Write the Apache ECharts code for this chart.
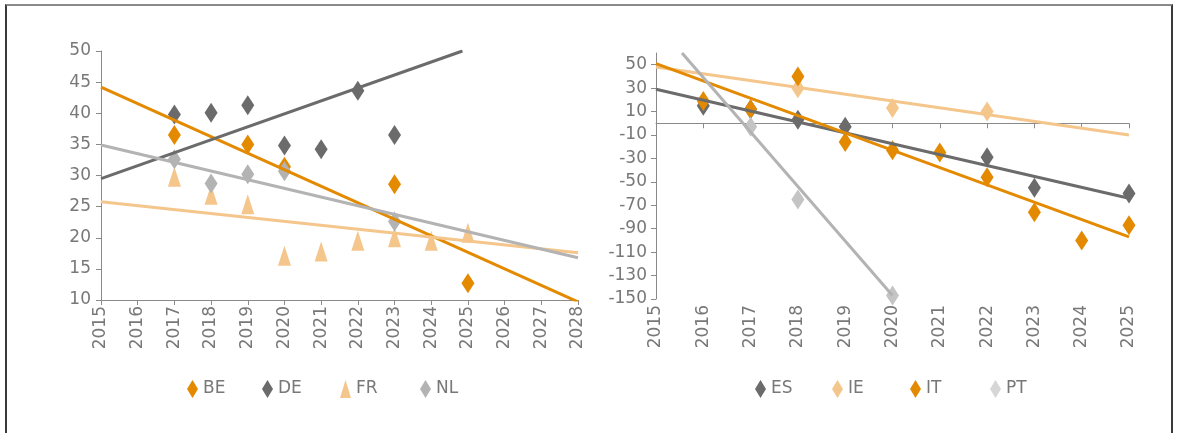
<!DOCTYPE html>
<html>
<head>
<meta charset="utf-8">
<script src="https://cdn.jsdelivr.net/npm/echarts@6/dist/echarts.min.js"></script>
<style>
  html, body { margin: 0; padding: 0; background: #fff; }
  #frame { position: absolute; left: 5px; top: 4px; width: 1164px; height: 440px;
           border-top: 2px solid #8a8a8a; border-left: 2px solid #3a3a3a; border-right: 2px solid #3a3a3a; }
  #chart { position: absolute; left: 0; top: 0; width: 1177px; height: 433px; }
</style>
</head>
<body>
<div id="frame"></div>
<div id="chart"></div>
<script>
// ---- Left panel data ----
const leftYears = [2017, 2018, 2019, 2020, 2021, 2022, 2023, 2024, 2025];
const BE = [36.5, null, 35.0, 31.4, null, null, 28.6, null, 12.7];
const DE = [39.8, 40.1, 41.3, 34.8, 34.2, 43.6, 36.5, null, null];
const FR = [29.8, 26.9, 25.4, 17.1, 17.8, 19.5, 20.1, 19.5, 20.8];
const NL = [32.6, 28.7, 30.2, 30.7, null, null, 22.6, null, null];
// trend lines: [start year, end year] and [start value, end value]
const trendX_BE = [2015, 2028], trendBE = [44.2, 9.7];
const trendX_DE = [2015, 2024.85], trendDE = [29.5, 50.0];
const trendX_FR = [2015, 2028], trendFR = [25.8, 17.6];
const trendX_NL = [2015, 2028], trendNL = [34.9, 16.8];
const leftXTicks = [2015, 2016, 2017, 2018, 2019, 2020, 2021, 2022, 2023, 2024, 2025, 2026, 2027, 2028];
const leftYTicks = [10, 15, 20, 25, 30, 35, 40, 45, 50];
const leftLegend = ['BE', 'DE', 'FR', 'NL'];

// ---- Right panel data ----
const rightYears = [2016, 2017, 2018, 2019, 2020, 2021, 2022, 2023, 2024, 2025];
const ES = [15, 12, 3, -3, null, null, -29, -55, null, -60];
const IE = [null, null, 30, null, 13, null, 10, null, null, null];
const IT = [19, 12, 40, -16, -23, -25, -46, -76, -100, -87];
const PT = [null, -3, -65, null, -147, null, null, null, null, null];
const trendX_ES = [2015, 2025], trendES = [29, -64];
const trendX_IE = [2015, 2025], trendIE = [48, -10];
const trendX_IT = [2015, 2025], trendIT = [51, -97];
const trendX_PT = [2015.55, 2020], trendPT = [60, -147];
const rightXTicks = [2015, 2016, 2017, 2018, 2019, 2020, 2021, 2022, 2023, 2024, 2025];
const rightYTicks = [-150, -130, -110, -90, -70, -50, -30, -10, 10, 30, 50];
const rightLegend = ['ES', 'IE', 'IT', 'PT'];

const C_ORANGE = '#E38A00', C_DARK = '#6B6B6B', C_LORANGE = '#F5C68C', C_LGRAY = '#B3B3B3', C_PT = '#C4C4C4';
const FONT = 'DejaVu Sans';
const TXT = '#787878', AXIS = '#8a8a8a';

function pts(xs, ys) { return xs.map((x, i) => [x, ys[i]]).filter(p => p[1] !== null); }
function scatter(name, xs, ys, color, symbol, xi, yi) {
  return { name, type: 'scatter', xAxisIndex: xi, yAxisIndex: yi, data: pts(xs, ys),
    symbol: symbol, symbolSize: [13, 20], itemStyle: { color, opacity: 1 }, z: 3, silent: true };
}
function trend(name, xs, ys, color, xi, yi) {
  return { name, type: 'line', xAxisIndex: xi, yAxisIndex: yi, data: pts(xs, ys),
    symbol: 'none', lineStyle: { color, width: 3 }, z: 4, silent: true, animation: false };
}
const labelStyle = { color: TXT, fontFamily: FONT, fontSize: 17 };

// one legend component per entry so each sits where the reference places it
const legendLefts = { BE: 187, DE: 262, FR: 340, NL: 420, ES: 755, IE: 832, IT: 910, PT: 990 };
function legendFor(name, extra) {
  return { data: [extra ? Object.assign({ name }, extra) : name], left: legendLefts[name], top: 380, padding: 0,
    itemWidth: 11, itemHeight: 18, textStyle: labelStyle, selectedMode: false };
}

const chart = echarts.init(document.getElementById('chart'), null, { renderer: 'canvas' });
chart.setOption({
  animation: false,
  backgroundColor: 'transparent',
  textStyle: { fontFamily: FONT },
  grid: [
    { left: 101, top: 51, width: 477, height: 249 },
    { left: 656, top: 53, width: 473, height: 246 }
  ],
  xAxis: [
    { type: 'value', gridIndex: 0, min: 2015, max: 2028, interval: 1, position: 'bottom',
      splitLine: { show: false },
      axisLine: { onZero: false, lineStyle: { color: AXIS, width: 1 } },
      axisTick: { show: true, length: 5, customValues: leftXTicks, lineStyle: { color: AXIS } },
      axisLabel: Object.assign({ rotate: 90, margin: 6, customValues: leftXTicks, formatter: v => String(v) }, labelStyle) },
    { type: 'value', gridIndex: 1, min: 2015, max: 2025, interval: 1, position: 'bottom',
      splitLine: { show: false },
      axisLine: { show: false, onZero: false },
      axisTick: { show: false },
      axisLabel: Object.assign({ rotate: 90, margin: 6, customValues: rightXTicks, formatter: v => String(v) }, labelStyle) },
    { type: 'value', gridIndex: 1, min: 2015, max: 2025, interval: 1, position: 'top',
      splitLine: { show: false },
      axisLine: { show: true, onZero: true, lineStyle: { color: AXIS, width: 1 } },
      axisTick: { show: true, inside: true, length: 5, customValues: rightXTicks, lineStyle: { color: AXIS } },
      axisLabel: { show: false } }
  ],
  yAxis: [
    { type: 'value', gridIndex: 0, min: 10, max: 50, interval: 5,
      splitLine: { show: false },
      axisLine: { show: true, onZero: false, lineStyle: { color: AXIS, width: 1 } },
      axisTick: { show: true, length: 5, customValues: leftYTicks, lineStyle: { color: AXIS } },
      axisLabel: Object.assign({ margin: 10, customValues: leftYTicks }, labelStyle) },
    { type: 'value', gridIndex: 1, min: -150, max: 60, interval: 20,
      splitLine: { show: false },
      axisLine: { show: true, onZero: false, lineStyle: { color: AXIS, width: 1 } },
      axisTick: { show: true, length: 5, customValues: rightYTicks, lineStyle: { color: AXIS } },
      axisLabel: Object.assign({ margin: 9, customValues: rightYTicks }, labelStyle) }
  ],
  legend: leftLegend.map(n => legendFor(n)).concat(
    rightLegend.map(n => legendFor(n, n === 'PT' ? { itemStyle: { color: '#D6D6D6' } } : null))),
  series: [
    scatter('BE', leftYears, BE, C_ORANGE, 'diamond', 0, 0),
    scatter('DE', leftYears, DE, C_DARK, 'diamond', 0, 0),
    scatter('FR', leftYears, FR, C_LORANGE, 'triangle', 0, 0),
    scatter('NL', leftYears, NL, C_LGRAY, 'diamond', 0, 0),
    trend('BE trend', trendX_BE, trendBE, C_ORANGE, 0, 0),
    trend('DE trend', trendX_DE, trendDE, C_DARK, 0, 0),
    trend('FR trend', trendX_FR, trendFR, C_LORANGE, 0, 0),
    trend('NL trend', trendX_NL, trendNL, C_LGRAY, 0, 0),
    scatter('ES', rightYears, ES, C_DARK, 'diamond', 1, 1),
    scatter('IE', rightYears, IE, C_LORANGE, 'diamond', 1, 1),
    scatter('IT', rightYears, IT, C_ORANGE, 'diamond', 1, 1),
    scatter('PT', rightYears, PT, C_PT, 'diamond', 1, 1),
    trend('ES trend', trendX_ES, trendES, C_DARK, 1, 1),
    trend('IE trend', trendX_IE, trendIE, C_LORANGE, 1, 1),
    trend('IT trend', trendX_IT, trendIT, C_ORANGE, 1, 1),
    trend('PT trend', trendX_PT, trendPT, C_LGRAY, 1, 1)
  ]
});
</script>
</body>
</html>
